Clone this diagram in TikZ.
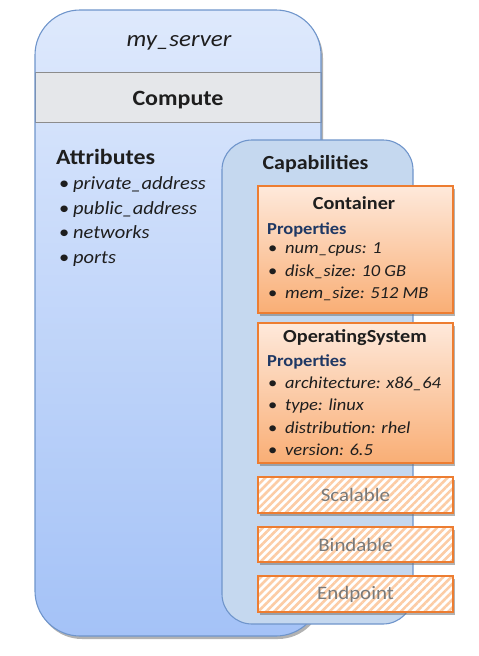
\documentclass[tikz,border=0pt]{standalone}
\usepackage{fontspec}
\setmainfont{Carlito}[FakeStretch=1.1]
\usetikzlibrary{shadows,patterns.meta}
\definecolor{outerborder}{HTML}{6F95CB}
\definecolor{outertop}{HTML}{DEE9FC}
\definecolor{outerbot}{HTML}{A4C2F7}
\definecolor{bandfill}{HTML}{E5E7EA}
\definecolor{bandline}{HTML}{8C8C8C}
\definecolor{capfill}{HTML}{C5D8EF}
\definecolor{orangeline}{HTML}{ED7D31}
\definecolor{ortop}{HTML}{FEE9DB}
\definecolor{orbot}{HTML}{F9AE75}
\definecolor{hatchcol}{HTML}{FCCCA5}
\definecolor{proptext}{HTML}{1F3864}
\definecolor{bodytext}{HTML}{1E1E1E}
\definecolor{greytext}{HTML}{7A7A7A}
\newcommand\szName{\fontsize{22.7}{26}\selectfont}
\newcommand\szComp{\fontsize{21.8}{26}\selectfont}
\newcommand\szAttr{\fontsize{21.7}{26}\selectfont}
\newcommand\szCap{\fontsize{20}{24}\selectfont}
\newcommand\szList{\fontsize{18.6}{22}\selectfont}
\newcommand\szHead{\fontsize{18.4}{22}\selectfont}
\newcommand\szPropH{\fontsize{16.8}{20}\selectfont}
\newcommand\szProp{\fontsize{16.8}{20}\selectfont}
\newcommand\szHatch{\fontsize{19}{22}\selectfont}
\newcommand\bul[1]{\makebox[17pt][l]{\textbullet}\textit{#1}}
\newcommand\bulA[1]{\makebox[14pt][l]{\textbullet}\textit{#1}}
\tikzset{
  box/.style={inner sep=0pt, outer sep=0pt},
  mysh/.style={drop shadow={shadow xshift=2pt, shadow yshift=-3pt, fill=black!55, opacity=0.55}},
  orbox/.style={box, mysh, draw=orangeline, line width=1.4pt, top color=ortop, bottom color=orbot, minimum width=195pt},
  hatchbox/.style={box, mysh, preaction={fill=white}, draw=orangeline, line width=1.4pt,
     pattern={Lines[angle=45,distance=5.6pt,line width=2.6pt]}, pattern color=hatchcol,
     minimum width=195pt, text=greytext, font=\szHatch},
  txt/.style={anchor=base west, inner sep=0pt, text=bodytext},
  ctxt/.style={anchor=base, inner sep=0pt, text=bodytext},
}
\begin{document}
\begin{tikzpicture}[x=1pt,y=1pt]
\useasboundingbox (0,0) rectangle (479,-656);
% outer compute box
\node[box, mysh, rounded corners=45pt, top color=outertop, bottom color=outerbot,
      minimum width=286pt, minimum height=626pt] (outer) at (178,-323) {};
\node[box, fill=bandfill, draw=bandline, line width=0.9pt, minimum width=286pt, minimum height=50pt] (band) at (178,-97) {};
\node[box, draw=outerborder, line width=1.1pt, rounded corners=45pt,
      minimum width=286pt, minimum height=626pt] (outerline) at (178,-323) {};
\node[ctxt] (name) at (179,-46) {\szName\itshape my\_server};
\node[ctxt] (compute) at (178,-105) {\szComp\bfseries Compute};
% attributes
\node[txt] (attr) at (56,-164) {\szAttr\bfseries Attributes};
\node[txt] (a1) at (59,-189) {\szList\bulA{private\_address}};
\node[txt] (a2) at (59,-214) {\szList\bulA{public\_address}};
\node[txt] (a3) at (59,-238) {\szList\bulA{networks}};
\node[txt] (a4) at (59,-263) {\szList\bulA{ports}};
% capabilities
\node[box, draw=outerborder, line width=1.1pt, fill=capfill, rounded corners=30pt,
      minimum width=191pt, minimum height=484pt] (caps) at (317.5,-382) {};
\node[ctxt] (capt) at (315.5,-169) {\szCap\bfseries Capabilities};
% container
\node[orbox, minimum height=127pt] (cont) at (355.5,-249.5) {};
\node[ctxt] (contt) at (354,-209) {\szHead\bfseries Container};
\node[txt, text=proptext] (cp) at (267,-234) {\szPropH\bfseries Properties};
\node[txt] (c1) at (268,-253) {\szProp\bul{num\_cpus: 1}};
\node[txt] (c2) at (268,-276) {\szProp\bul{disk\_size: 10 GB}};
\node[txt] (c3) at (268,-298) {\szProp\bul{mem\_size: 512 MB}};
% operating system
\node[orbox, minimum height=140pt] (os) at (355.5,-393) {};
\node[ctxt] (ost) at (355,-342) {\szHead\bfseries OperatingSystem};
\node[txt, text=proptext] (op) at (267,-366) {\szPropH\bfseries Properties};
\node[txt] (o1) at (268,-388) {\szProp\bul{architecture: x86\_64}};
\node[txt] (o2) at (268,-410) {\szProp\bul{type: linux}};
\node[txt] (o3) at (268,-433) {\szProp\bul{distribution: rhel}};
\node[txt] (o4) at (268,-455) {\szProp\bul{version: 6.5}};
% hatched capabilities
\node[hatchbox, minimum height=36pt] (scal) at (355.5,-495) {Scalable};
\node[hatchbox, minimum height=35pt] (bind) at (355.5,-544.5) {Bindable};
\node[hatchbox, minimum height=36pt] (endp) at (355.5,-594) {Endpoint};
\end{tikzpicture}
\end{document}
